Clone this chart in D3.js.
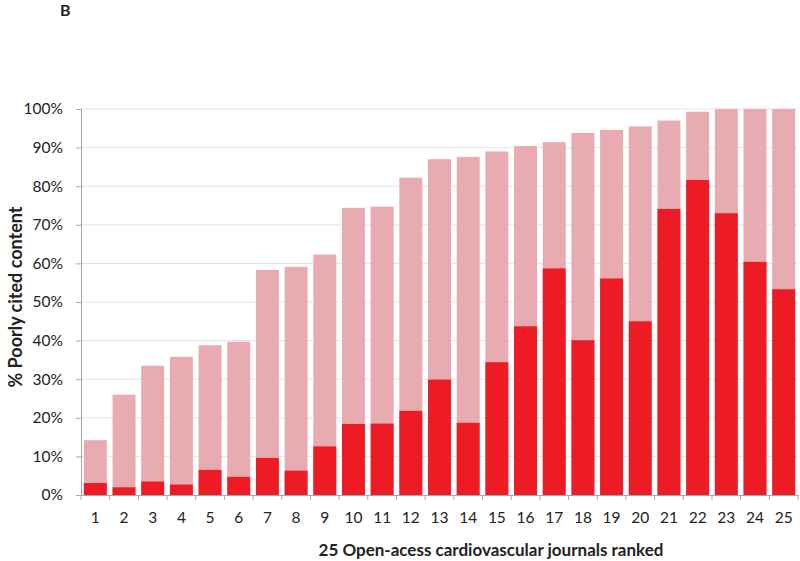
<html><head><meta charset="UTF-8">
<style>
  body { margin: 0; background: white; font-family: Lato, "Open Sans", sans-serif; }
  svg text { fill: #222; }
</style>
</head>
<body>
<svg id="chart"></svg>
<script src="https://cdn.jsdelivr.net/npm/d3@7/dist/d3.min.js"></script>
<script>
// journals ranked 1..25
var journals = d3.range(1, 26).map(String);
// total poorly cited content (%) - pink bars
var totalPct = [14.2, 26.0, 33.5, 35.8, 38.8, 39.7, 58.3, 59.1, 62.3, 74.4, 74.7, 82.2, 87.0,
                87.6, 89.0, 90.4, 91.4, 93.8, 94.6, 95.5, 97.0, 99.3, 100, 100, 100];
// darker red portion (%)
var redPct = [3.1, 2.0, 3.5, 2.7, 6.5, 4.7, 9.6, 6.3, 12.6, 18.4, 18.5, 21.8, 29.9,
              18.7, 34.4, 43.7, 58.7, 40.1, 56.1, 45.0, 74.1, 81.6, 73.0, 60.4, 53.3];
var yTicks = [0, 10, 20, 30, 40, 50, 60, 70, 80, 90, 100];

var width = 800, height = 561;
var margin = {top: 109, left: 81, right: 2, bottom: 66};

var svg = d3.select("#chart").attr("width", width).attr("height", height);

var x = d3.scaleBand()
  .domain(journals)
  .range([margin.left, width - margin.right])
  .paddingInner(0.2)
  .paddingOuter(0.1);

var y = d3.scaleLinear()
  .domain([0, 100])
  .range([height - margin.bottom, margin.top]);

// gridlines
svg.append("g")
  .selectAll("line")
  .data(yTicks.slice(1))
  .enter().append("line")
  .attr("x1", margin.left).attr("x2", width - margin.right)
  .attr("y1", function (d) { return y(d); })
  .attr("y2", function (d) { return y(d); })
  .attr("stroke", "#e4e4e4").attr("stroke-width", 1);

// pink totals
svg.append("g")
  .selectAll("rect")
  .data(totalPct)
  .enter().append("rect")
  .attr("x", function (d, i) { return x(journals[i]); })
  .attr("width", x.bandwidth())
  .attr("y", function (d) { return y(d); })
  .attr("height", function (d) { return y(0) - y(d); })
  .attr("fill", "#e8abb2");

// red part
svg.append("g")
  .selectAll("rect")
  .data(redPct)
  .enter().append("rect")
  .attr("x", function (d, i) { return x(journals[i]); })
  .attr("width", x.bandwidth())
  .attr("y", function (d) { return y(d); })
  .attr("height", function (d) { return y(0) - y(d); })
  .attr("fill", "#ed1c24");

// y axis
var yAxis = d3.axisLeft(y)
  .tickValues(yTicks)
  .tickFormat(function (d) { return d + "%"; })
  .tickSize(5)
  .tickPadding(13);
var gy = svg.append("g")
  .attr("transform", "translate(" + margin.left + ",0)")
  .call(yAxis);
gy.selectAll("text").attr("font-size", 15.5).attr("font-family", "Lato, sans-serif");

// x axis: labels at band centres, tick marks at band boundaries
var step = x.step();
var xAxis = d3.axisBottom(x).tickSize(0).tickPadding(17);
var gx = svg.append("g")
  .attr("transform", "translate(0," + y(0) + ")")
  .call(xAxis);
gx.selectAll("text").attr("font-size", 15.5).attr("font-family", "Lato, sans-serif");
gx.selectAll(".tick-mark")
  .data(d3.range(0, journals.length + 1))
  .enter().append("line")
  .attr("class", "tick-mark")
  .attr("x1", function (i) { return margin.left + i * step; })
  .attr("x2", function (i) { return margin.left + i * step; })
  .attr("y1", 0).attr("y2", 5)
  .attr("stroke", "#a6a6a6");

svg.selectAll(".domain, .tick line").attr("stroke", "#a6a6a6");

// titles
svg.append("text")
  .attr("transform", "translate(22," + (y(50) - 5) + ") rotate(-90)")
  .attr("text-anchor", "middle")
  .attr("font-weight", "bold").attr("font-size", 18)
  .text("% Poorly cited content");

svg.append("text")
  .attr("x", 491).attr("y", 556)
  .attr("text-anchor", "middle")
  .attr("font-weight", "bold").attr("font-size", 17)
  .text("25 Open-acess cardiovascular journals ranked");

svg.append("text")
  .attr("x", 60).attr("y", 16)
  .attr("font-weight", "bold").attr("font-size", 16)
  .text("B");
</script>
</body></html>
